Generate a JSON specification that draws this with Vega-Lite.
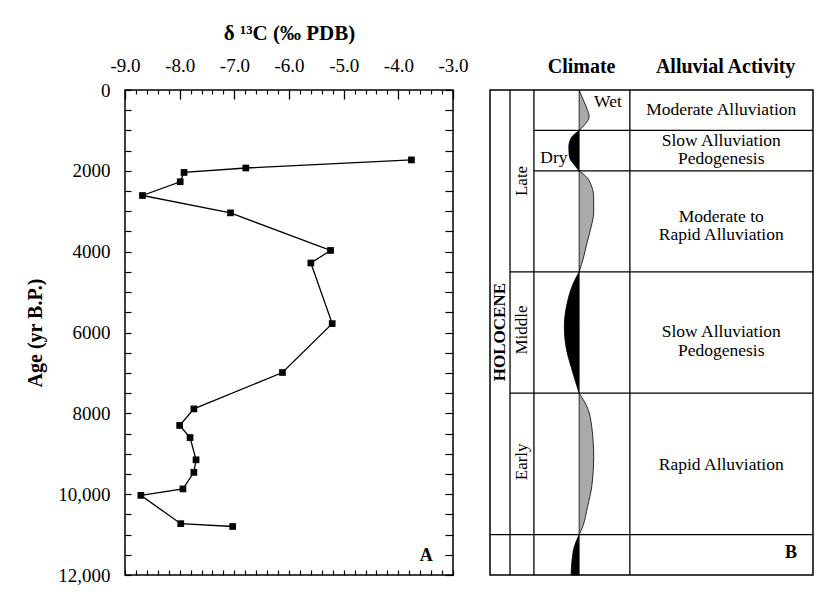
{
  "$schema": "https://vega.github.io/schema/vega-lite/v6.json",
  "background": "white",
  "padding": {"left": 25, "top": 21, "right": 10, "bottom": 10},
  "config": {
    "font": "Liberation Serif",
    "view": {"stroke": "black", "strokeWidth": 1.5},
    "axis": {"grid": false, "domain": false, "tickColor": "black", "labelColor": "black", "titleColor": "black", "labelFont": "Liberation Serif", "titleFont": "Liberation Serif", "labelFlush": false, "labelOverlap": false, "minExtent": 0},
    "text": {"font": "Liberation Serif", "color": "black"}
  },
  "datasets": {
    "iso": [
      {"age": 1730, "d13c": -3.76},
      {"age": 1930, "d13c": -6.79},
      {"age": 2040, "d13c": -7.92},
      {"age": 2270, "d13c": -7.99},
      {"age": 2610, "d13c": -8.68},
      {"age": 3040, "d13c": -7.07},
      {"age": 3970, "d13c": -5.24},
      {"age": 4280, "d13c": -5.6},
      {"age": 5780, "d13c": -5.21},
      {"age": 6990, "d13c": -6.12},
      {"age": 7890, "d13c": -7.74},
      {"age": 8300, "d13c": -8.0},
      {"age": 8600, "d13c": -7.81},
      {"age": 9150, "d13c": -7.7},
      {"age": 9460, "d13c": -7.74},
      {"age": 9870, "d13c": -7.94},
      {"age": 10030, "d13c": -8.71},
      {"age": 10730, "d13c": -7.98},
      {"age": 10800, "d13c": -7.03}
    ],
    "panelA": [
      {"label": "A", "d13c": -3.49, "age": 11530}
    ],
    "curve": [
      {"seg": 1, "kind": "wet", "age": 0, "x": 27.6},
      {"seg": 1, "kind": "wet", "age": 250, "x": 28.9},
      {"seg": 1, "kind": "wet", "age": 500, "x": 30.2},
      {"seg": 1, "kind": "wet", "age": 660, "x": 30.7},
      {"seg": 1, "kind": "wet", "age": 820, "x": 29.7},
      {"seg": 1, "kind": "wet", "age": 1000, "x": 27.6},
      {"seg": 2, "kind": "dry", "age": 1000, "x": 27.6},
      {"seg": 2, "kind": "dry", "age": 1190, "x": 25.1},
      {"seg": 2, "kind": "dry", "age": 1410, "x": 24.4},
      {"seg": 2, "kind": "dry", "age": 1660, "x": 24.6},
      {"seg": 2, "kind": "dry", "age": 1850, "x": 26.1},
      {"seg": 2, "kind": "dry", "age": 2000, "x": 27.6},
      {"seg": 3, "kind": "wet", "age": 2000, "x": 27.6},
      {"seg": 3, "kind": "wet", "age": 2230, "x": 30.6},
      {"seg": 3, "kind": "wet", "age": 2650, "x": 32.1},
      {"seg": 3, "kind": "wet", "age": 3040, "x": 32.1},
      {"seg": 3, "kind": "wet", "age": 3390, "x": 31.3},
      {"seg": 3, "kind": "wet", "age": 3790, "x": 30.0},
      {"seg": 3, "kind": "wet", "age": 4130, "x": 29.0},
      {"seg": 3, "kind": "wet", "age": 4500, "x": 27.6},
      {"seg": 4, "kind": "dry", "age": 4500, "x": 27.6},
      {"seg": 4, "kind": "dry", "age": 4780, "x": 25.8},
      {"seg": 4, "kind": "dry", "age": 5200, "x": 24.1},
      {"seg": 4, "kind": "dry", "age": 5860, "x": 23.0},
      {"seg": 4, "kind": "dry", "age": 6430, "x": 23.7},
      {"seg": 4, "kind": "dry", "age": 6850, "x": 25.1},
      {"seg": 4, "kind": "dry", "age": 7250, "x": 26.6},
      {"seg": 4, "kind": "dry", "age": 7500, "x": 27.6},
      {"seg": 5, "kind": "wet", "age": 7500, "x": 27.6},
      {"seg": 5, "kind": "wet", "age": 7830, "x": 30.0},
      {"seg": 5, "kind": "wet", "age": 8330, "x": 31.5},
      {"seg": 5, "kind": "wet", "age": 9070, "x": 32.1},
      {"seg": 5, "kind": "wet", "age": 9810, "x": 31.5},
      {"seg": 5, "kind": "wet", "age": 10310, "x": 30.2},
      {"seg": 5, "kind": "wet", "age": 10800, "x": 28.7},
      {"seg": 5, "kind": "wet", "age": 11000, "x": 27.6},
      {"seg": 6, "kind": "dry", "age": 11000, "x": 27.6},
      {"seg": 6, "kind": "dry", "age": 11300, "x": 26.1},
      {"seg": 6, "kind": "dry", "age": 11630, "x": 25.4},
      {"seg": 6, "kind": "dry", "age": 12000, "x": 25.1}
    ],
    "hlines": [
      {"age": 1000, "x1": 13.6, "x2": 100},
      {"age": 2000, "x1": 13.6, "x2": 100},
      {"age": 4500, "x1": 6.2, "x2": 100},
      {"age": 7500, "x1": 6.2, "x2": 100},
      {"age": 11000, "x1": 0, "x2": 100}
    ],
    "vlines": [
      {"x": 6.2, "a1": 0, "a2": 12000},
      {"x": 13.6, "a1": 0, "a2": 12000},
      {"x": 43.3, "a1": 0, "a2": 12000}
    ],
    "labelsB": [
      {"group": "era", "text": "HOLOCENE", "x": 3.1, "age": 5990},
      {"group": "epoch", "text": "Late", "x": 9.9, "age": 2250},
      {"group": "epoch", "text": "Middle", "x": 9.9, "age": 5940},
      {"group": "epoch", "text": "Early", "x": 9.9, "age": 9200},
      {"group": "note", "text": "Wet", "x": 36.5, "age": 300},
      {"group": "note", "text": "Dry", "x": 19.8, "age": 1690},
      {"group": "note", "text": "Moderate Alluviation", "x": 71.6, "age": 495},
      {"group": "note", "text": "Slow Alluviation", "x": 71.6, "age": 1250},
      {"group": "note", "text": "Pedogenesis", "x": 71.6, "age": 1715},
      {"group": "note", "text": "Moderate to", "x": 71.6, "age": 3140},
      {"group": "note", "text": "Rapid Alluviation", "x": 71.6, "age": 3590},
      {"group": "note", "text": "Slow Alluviation", "x": 71.6, "age": 5990},
      {"group": "note", "text": "Pedogenesis", "x": 71.6, "age": 6450},
      {"group": "note", "text": "Rapid Alluviation", "x": 71.6, "age": 9280},
      {"group": "tag", "text": "B", "x": 93.2, "age": 11460}
    ]
  },
  "spacing": 19,
  "hconcat": [
    {
      "width": 328,
      "height": 485,
      "layer": [
        {
          "data": {"name": "iso"},
          "mark": {"type": "line", "color": "black", "strokeWidth": 1.3},
          "encoding": {
            "x": {"field": "d13c", "type": "quantitative", "scale": {"domain": [-9, -3], "nice": false, "zero": false},
              "axis": {"orient": "top", "values": [-9, -8, -7, -6, -5, -4, -3], "labelExpr": "datum.value + '.0'", "tickSize": -9, "tickWidth": 1.3, "labelFontSize": 19, "labelPadding": 24, "title": "δ ¹³C (‰ PDB)", "titleFontSize": 21, "titleFontWeight": "bold", "titlePadding": 13}},
            "y": {"field": "age", "type": "quantitative", "scale": {"domain": [0, 12000], "reverse": true, "nice": false, "zero": false},
              "axis": {"orient": "left", "values": [0, 500, 1000, 1500, 2000, 2500, 3000, 3500, 4000, 4500, 5000, 5500, 6000, 6500, 7000, 7500, 8000, 8500, 9000, 9500, 10000, 10500, 11000, 11500, 12000],
                "labelExpr": "datum.value % 2000 == 0 ? (datum.value >= 10000 ? format(datum.value, ',') : format(datum.value, 'd')) : ''",
                "tickSize": -6, "tickWidth": 1.2, "labelFontSize": 19, "labelPadding": 21, "title": "Age (yr B.P.)", "titleFontSize": 20, "titleFontWeight": "bold", "titlePadding": 12}},
            "order": {"field": "age", "type": "quantitative"}
          }
        },
        {
          "data": {"name": "iso"},
          "mark": {"type": "square", "color": "black", "size": 45, "opacity": 1, "filled": true},
          "encoding": {
            "x": {"field": "d13c", "type": "quantitative",
              "axis": {"orient": "bottom", "values": [-9, -8.8, -8.6, -8.4, -8.2, -8, -7.8, -7.6, -7.4, -7.2, -7, -6.8, -6.6, -6.4, -6.2, -6, -5.8, -5.6, -5.4, -5.2, -5, -4.8, -4.6, -4.4, -4.2, -4, -3.8, -3.6, -3.4, -3.2, -3], "labels": false, "tickSize": -5, "tickWidth": 1.2, "title": null}},
            "y": {"field": "age", "type": "quantitative",
              "axis": {"orient": "right", "values": [0, 500, 1000, 1500, 2000, 2500, 3000, 3500, 4000, 4500, 5000, 5500, 6000, 6500, 7000, 7500, 8000, 8500, 9000, 9500, 10000, 10500, 11000, 11500, 12000], "labels": false, "tickSize": -8, "tickWidth": 1.2, "title": null}}
          }
        },
        {
          "data": {"name": "panelA"},
          "mark": {"type": "text", "fontSize": 18, "fontWeight": "bold"},
          "encoding": {
            "x": {"field": "d13c", "type": "quantitative",
              "axis": {"orient": "top", "values": [-8.8, -8.6, -8.4, -8.2, -7.8, -7.6, -7.4, -7.2, -6.8, -6.6, -6.4, -6.2, -5.8, -5.6, -5.4, -5.2, -4.8, -4.6, -4.4, -4.2, -3.8, -3.6, -3.4, -3.2], "labels": false, "tickSize": -4, "tickWidth": 1.2, "title": null}},
            "y": {"field": "age", "type": "quantitative", "axis": null},
            "text": {"field": "label"}
          }
        }
      ],
      "resolve": {"axis": {"x": "independent", "y": "independent"}}
    },
    {
      "width": 323,
      "height": 485,
      "layer": [
        {
          "data": {"name": "vlines"},
          "mark": {"type": "rule", "color": "black", "strokeWidth": 1.3},
          "encoding": {
            "x": {"field": "x", "type": "quantitative", "scale": {"domain": [0, 100], "nice": false, "zero": false},
              "axis": {"orient": "top", "values": [28.2, 72.8], "labelExpr": "datum.value < 50 ? 'Climate' : 'Alluvial Activity'", "ticks": false, "labels": true, "labelFontSize": 20, "labelFontWeight": "bold", "labelPadding": 14, "title": null}},
            "y": {"field": "a1", "type": "quantitative", "scale": {"domain": [0, 12000], "reverse": true, "nice": false, "zero": false}, "axis": null},
            "y2": {"field": "a2"}
          }
        },
        {
          "data": {"name": "curve"},
          "mark": {"type": "area", "orient": "horizontal", "interpolate": "monotone", "stroke": "black", "strokeWidth": 0.8},
          "encoding": {
            "y": {"field": "age", "type": "quantitative", "axis": null},
            "x": {"field": "x", "type": "quantitative", "axis": null},
            "x2": {"datum": 27.6},
            "fill": {"field": "kind", "type": "nominal", "scale": {"domain": ["wet", "dry"], "range": ["#aaaaaa", "black"]}, "legend": null},
            "detail": {"field": "seg", "type": "nominal"}
          }
        },
        {
          "data": {"name": "hlines"},
          "mark": {"type": "rule", "color": "black", "strokeWidth": 1.3},
          "encoding": {
            "y": {"field": "age", "type": "quantitative", "axis": null},
            "x": {"field": "x1", "type": "quantitative", "axis": null},
            "x2": {"field": "x2"}
          }
        },
        {
          "data": {"name": "labelsB"},
          "transform": [{"filter": "datum.group == 'era'"}],
          "mark": {"type": "text", "angle": 270, "fontSize": 17, "fontWeight": "bold"},
          "encoding": {
            "x": {"field": "x", "type": "quantitative", "axis": null},
            "y": {"field": "age", "type": "quantitative", "axis": null},
            "text": {"field": "text"}
          }
        },
        {
          "data": {"name": "labelsB"},
          "transform": [{"filter": "datum.group == 'epoch'"}],
          "mark": {"type": "text", "angle": 270, "fontSize": 17},
          "encoding": {
            "x": {"field": "x", "type": "quantitative", "axis": null},
            "y": {"field": "age", "type": "quantitative", "axis": null},
            "text": {"field": "text"}
          }
        },
        {
          "data": {"name": "labelsB"},
          "transform": [{"filter": "datum.group == 'note'"}],
          "mark": {"type": "text", "fontSize": 17.5},
          "encoding": {
            "x": {"field": "x", "type": "quantitative", "axis": null},
            "y": {"field": "age", "type": "quantitative", "axis": null},
            "text": {"field": "text"}
          }
        },
        {
          "data": {"name": "labelsB"},
          "transform": [{"filter": "datum.group == 'tag'"}],
          "mark": {"type": "text", "fontSize": 18, "fontWeight": "bold"},
          "encoding": {
            "x": {"field": "x", "type": "quantitative", "axis": null},
            "y": {"field": "age", "type": "quantitative", "axis": null},
            "text": {"field": "text"}
          }
        }
      ],
      "resolve": {"axis": {"x": "independent", "y": "independent"}}
    }
  ]
}
